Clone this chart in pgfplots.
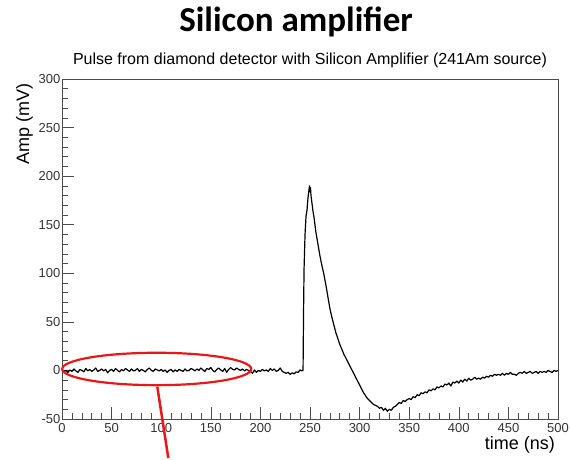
\documentclass[border=0pt]{standalone}
\usepackage{pgfplots}
\pgfplotsset{compat=1.18}
\usepackage{fontspec}
\setmainfont{Liberation Sans}
\newfontfamily\titlefont{Carlito}
\definecolor{annred}{RGB}{232,24,24}
\begin{document}
\begin{tikzpicture}[x=1pt,y=1pt]
\path (-62,-39) rectangle (508,419);
\begin{axis}[
  at={(0,0)}, anchor=south west,
  scale only axis, width=496pt, height=340pt,
  xmin=0, xmax=500, ymin=-50, ymax=300,
  xtick={0,50,...,500}, ytick={-50,0,...,300},
  minor x tick num=4, minor y tick num=4,
  tick align=inside, xtick pos=left, ytick pos=left,
  major tick length=12pt, minor tick length=6pt,
  axis line style={black!70, line width=0.8pt},
  tick style={black!70, line width=0.6pt},
  /pgf/number format/assume math mode=true,
  ticklabel style={font=\fontsize{13}{13}\selectfont, text=black!80},
  yticklabel style={inner sep=1.5pt},
  xticklabel style={inner sep=1pt, yshift=-3pt},
  clip=false,
]
\addplot[black, line width=1.2pt, line join=round] coordinates {
(0,1) (2,-1) (4,0) (6,-2) (8,0.5) (10,-1) (12,1.5) (14,-0.5) (16,-2) (18,1)
(20,0) (22,-1.5) (24,2) (26,-0.5) (28,1) (30,-1) (32,0.5) (34,2.5) (36,-1) (38,0)
(40,1.5) (42,-0.5) (44,1) (46,-2.5) (48,0) (50,1) (52,-1) (54,2) (56,0) (58,-1.5)
(60,1) (62,-0.5) (64,2) (66,0.5) (68,-1) (70,1.5) (72,-0.5) (74,0) (76,2) (78,-1)
(80,1) (82,0) (84,-1.5) (86,1) (88,2.5) (90,0) (92,-1) (94,1.5) (96,0.5) (98,-0.5)
(100,1) (102,-1) (104,0.5) (106,-2) (108,0) (110,1) (112,-1.5) (114,0.5) (116,-1) (118,1)
(120,0) (122,-1) (124,1.5) (126,-0.5) (128,0) (130,2) (132,1) (134,-0.5) (136,1.5) (138,0)
(140,2.5) (142,0.5) (144,-1) (146,2) (148,1) (150,3) (152,0) (154,-1.5) (156,1) (158,2.5)
(160,0.5) (162,-1) (164,2) (166,-2) (168,1) (170,3) (172,1) (174,0.5) (176,2.5) (178,1)
(180,0) (182,1.5) (184,-0.5) (186,1) (188,0) (190,-1) (192,-3) (194,0.5) (196,-2) (198,0)
(200,-1) (202,1) (204,-0.5) (206,0.5) (208,-1) (210,2) (212,0) (214,1.5) (216,-1) (218,0)
(220,2.5) (222,-1) (224,-2) (226,-3) (228,-2) (230,-4) (232,-2.5) (234,-3.5) (236,-1.5) (238,-2)
(240,0.5) (242,-0.5) (243,0)
(243.5,60) (244,104) (245,140) (246,159) (247,165) (248,178) (249,186) (249.5,190) (250,184) (250.5,188)
(251,180) (252,172) (253,164) (254,158) (255,150) (256,142) (257,136) (258,130) (259,124) (260,118)
(262,108) (264,99) (266,88) (268,76) (270,64) (272,55) (274,47) (276,39) (278,33) (280,27)
(282,22) (284,17) (286,13) (288,9) (290,5) (292,1) (294,-3) (296,-7) (298,-11) (300,-15)
(302,-19) (304,-23) (306,-26) (308,-29) (310,-31) (312,-33) (314,-35) (316,-36) (318,-37) (320,-39)
(322,-38) (324,-41) (326,-39) (328,-42) (330,-40) (332,-41) (334,-38) (336,-37) (338,-35) (340,-33)
(342,-34) (344,-31) (346,-32) (348,-30) (350,-29) (352,-30) (354,-27) (356,-28) (358,-25) (360,-26)
(362,-23) (364,-24) (366,-22) (368,-23) (370,-20) (372,-21) (374,-19) (376,-20) (378,-17) (380,-18)
(382,-16) (384,-17) (386,-14) (388,-15) (390,-13) (392,-16) (394,-12) (396,-13) (398,-11) (400,-13)
(402,-10) (404,-12) (406,-9) (408,-11) (410,-8) (412,-10) (414,-9) (416,-7) (418,-9) (420,-8)
(422,-9) (424,-7) (426,-8) (428,-6) (430,-7) (432,-5) (434,-6) (436,-4) (438,-5) (440,-4)
(442,-5) (444,-3) (446,-5) (448,-3) (450,-4) (452,-2) (454,-4) (456,-4) (458,-5) (460,-3)
(462,-2) (464,-3) (466,-1) (468,-3) (470,-2) (472,-1) (474,-3) (476,-2) (478,-1) (480,-3)
(482,-1) (484,-2) (486,-1) (488,-2) (490,0) (492,-1) (494,-2) (496,0) (498,-1) (500,0)
};
\draw[annred, line width=2.2pt] (axis cs:95.5,1.5) ellipse [x radius=94.5pt, y radius=16.2pt];
\end{axis}
\draw[annred, line width=2.5pt] (95.3,32.3) -- (106.3,-39);
\node[anchor=base, inner sep=0] at (234,387) {\titlefont\bfseries\fontsize{35}{35}\selectfont Silicon amplifier};
\node[anchor=base, inner sep=0] at (248,354) {\fontsize{16}{16}\selectfont Pulse from diamond detector with Silicon Amplifier (241Am source)};
\node[rotate=90, anchor=north east, inner sep=0] at (-46,336) {\fontsize{18}{18}\selectfont Amp (mV)};
\node[anchor=north east, inner sep=0] at (493,-17) {\fontsize{18}{18}\selectfont time (ns)};
\end{tikzpicture}
\end{document}
